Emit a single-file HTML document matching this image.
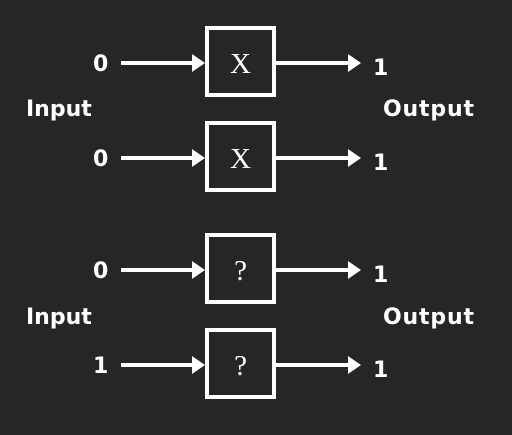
<!DOCTYPE html>
<html><head><meta charset="utf-8"><style>
body{margin:0;background:#262626;}
svg{display:block}
text{fill:#fff;font-family:"DejaVu Sans","Liberation Sans",sans-serif;font-weight:bold;font-size:22px}
.g{font-family:"Liberation Serif",serif;font-weight:normal;font-size:29px}
</style></head><body>
<svg width="512" height="435">
<rect width="512" height="435" fill="#262626"/>
<g id="rows"></g>
<text x="26" y="116">Input</text>
<text x="383" y="116" textLength="91">Output</text>
<text x="26" y="324">Input</text>
<text x="383" y="324" textLength="91">Output</text>
</svg>
<script>
const ys=[63,158,270,365];
const ins=['0','0','0','1'];
const outs=['1','1','1','1'];
const gates=['X','X','?','?'];
const g=document.getElementById('rows');
const NS='http://www.w3.org/2000/svg';
function mk(t,a){const e=document.createElementNS(NS,t);for(const k in a)e.setAttribute(k,a[k]);g.appendChild(e);return e;}
ys.forEach((y,i)=>{
 let t=mk('text',{x:93,y:y+8});t.textContent=ins[i];
 
 
 let l=mk('line',{x1:121,y1:y,x2:198,y2:y,stroke:'#fff','stroke-width':4});
 
 
 mk('path',{d:`M192 ${y-9} L205 ${y} L192 ${y+9} Z`,fill:'#fff'});
 let r=mk('rect',{x:207,y:y-35,width:67,height:67,fill:'none',stroke:'#fff','stroke-width':4});
 
 
 let gt=mk('text',{x:240.5,y:y+10,'text-anchor':'middle',class:'g'});gt.textContent=gates[i];
 
 
 let l2=mk('line',{x1:276,y1:y,x2:354,y2:y,stroke:'#fff','stroke-width':4});
 
 
 mk('path',{d:`M348 ${y-9} L361 ${y} L348 ${y+9} Z`,fill:'#fff'});
 let o=mk('text',{x:373,y:y+12});o.textContent=outs[i];
 
 
});
</script>
</body></html>
